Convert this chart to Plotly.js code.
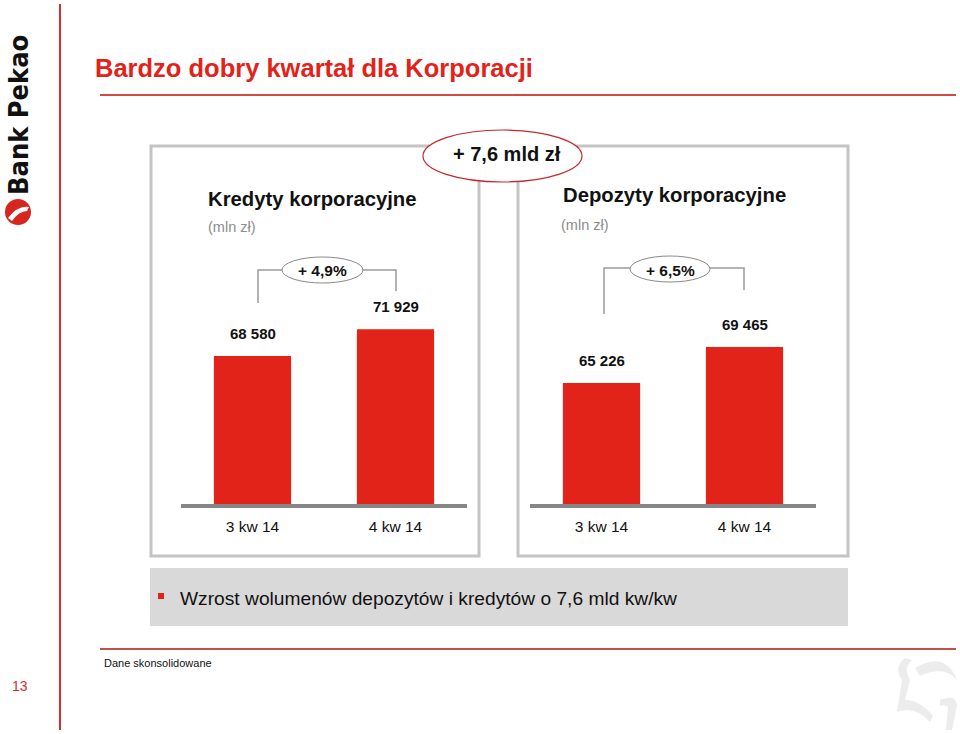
<!DOCTYPE html>
<html>
<head>
<meta charset="utf-8">
<script src="https://cdn.plot.ly/plotly-3.0.1.min.js"></script>
<style>html,body{margin:0;padding:0;background:#fff}#chart{width:960px;height:734px}</style>
</head>
<body>
<div id="chart"></div>
<script>
// ---- data ----
const categories = ["3 kw 14", "4 kw 14"];
const loanValues = [68580, 71929];       // Kredyty korporacyjne (mln zł)
const depositValues = [65226, 69465];    // Depozyty korporacyjne (mln zł)
const loanChange = "+ 4,9%";
const depositChange = "+ 6,5%";
const totalChange = "+ 7,6 mld zł";
const slideTitle = "Bardzo dobry kwartał dla Korporacji";
const leftTitle = "Kredyty korporacyjne";
const rightTitle = "Depozyty korporacyjne";
const unitLabel = "(mln zł)";
const summaryText = "Wzrost wolumenów depozytów i kredytów o 7,6 mld kw/kw";
const footnote = "Dane skonsolidowane";
const pageNumber = "13";

// ---- helpers ----
const W = 960, H = 734;
const X = px => px / W;
const Y = py => 1 - py / H;
const fmt = v => String(v).replace(/\B(?=(\d{3})+(?!\d))/g, " ");
const COND = "DejaVu Sans Condensed, Arial Narrow, sans-serif";
const ARIAL = "Liberation Sans, Arial, sans-serif";
const RED = "#e2231a";

const traces = [
  {type: "bar", x: categories, y: loanValues, xaxis: "x", yaxis: "y",
   marker: {color: RED}, hoverinfo: "skip"},
  {type: "bar", x: categories, y: depositValues, xaxis: "x2", yaxis: "y2",
   marker: {color: RED}, hoverinfo: "skip"}
];

const axisX = (d) => ({
  domain: d, type: "category", range: [-0.5, 1.5], fixedrange: true,
  showline: true, linecolor: "#868686", linewidth: 4, showgrid: false, zeroline: false,
  ticks: "outside", ticklen: 5, tickcolor: "rgba(0,0,0,0)",
  tickfont: {family: ARIAL, size: 15.5, color: "#111"}
});
const axisY = (range) => ({
  domain: [Y(504), Y(150)], range: range, visible: false, fixedrange: true
});

const annotations = [];
function valueLabels(vals, xa, ya) {
  vals.forEach((v, i) => annotations.push({
    xref: xa, yref: ya, x: categories[i], y: v, text: "<b>" + fmt(v) + "</b>",
    showarrow: false, yanchor: "bottom", yshift: 12,
    font: {family: ARIAL, size: 15, color: "#111"}
  }));
}
valueLabels(loanValues, "x", "y");
valueLabels(depositValues, "x2", "y2");

function txt(text, px, py, opts) {
  annotations.push(Object.assign({
    xref: "paper", yref: "paper", x: X(px), y: Y(py), text: text, showarrow: false,
    xanchor: "left", yanchor: "middle"
  }, opts));
}
txt("<b>" + slideTitle + "</b>", 93, 68, {font: {family: ARIAL, size: 25.5, color: "#e2231a"}});
txt("<b>" + leftTitle + "</b>", 206, 199, {font: {family: ARIAL, size: 20.3, color: "#111"}});
txt(unitLabel, 206, 227, {font: {family: ARIAL, size: 14.5, color: "#8c8c8c"}});
txt("<b>" + rightTitle + "</b>", 561, 195, {font: {family: ARIAL, size: 20.3, color: "#111"}});
txt(unitLabel, 559, 225, {font: {family: ARIAL, size: 14.5, color: "#8c8c8c"}});
txt("<b>" + totalChange + "</b>", 507, 154, {xanchor: "center", font: {family: ARIAL, size: 20, color: "#111"}});
txt("<b>" + loanChange + "</b>", 322, 270, {xanchor: "center", font: {family: ARIAL, size: 15.5, color: "#111"}});
txt("<b>" + depositChange + "</b>", 670, 270, {xanchor: "center", font: {family: ARIAL, size: 15.5, color: "#111"}});
txt(summaryText, 178, 598, {font: {family: ARIAL, size: 19.2, color: "#111"}});
txt(footnote, 102, 663, {font: {family: ARIAL, size: 11, color: "#111"}});
txt(pageNumber, 20, 686, {xanchor: "center", font: {family: ARIAL, size: 14, color: "#d42a2a"}});
txt("<b>Bank Pekao</b>", 18, 115, {xanchor: "center", textangle: -90, font: {family: COND, size: 27, color: "#111"}});

const GREY = "#c4c4c4";
const shapes = [
  // vertical left rule
  {type: "line", xref: "paper", yref: "paper", x0: X(60), x1: X(60), y0: Y(4), y1: Y(730), line: {color: "#d2302f", width: 2}},
  // title underline
  {type: "line", xref: "paper", yref: "paper", x0: X(100), x1: X(956), y0: Y(95), y1: Y(95), line: {color: "#d34a40", width: 2}},
  // footer line
  {type: "line", xref: "paper", yref: "paper", x0: X(100), x1: X(956), y0: Y(649), y1: Y(649), line: {color: "#c0504a", width: 2}},
  // panels
  {type: "rect", xref: "paper", yref: "paper", x0: X(151), x1: X(479), y0: Y(146), y1: Y(556), line: {color: GREY, width: 3}, layer: "below"},
  {type: "rect", xref: "paper", yref: "paper", x0: X(518), x1: X(848), y0: Y(146), y1: Y(556), line: {color: GREY, width: 3}, layer: "below"},
  // summary box
  {type: "rect", xref: "paper", yref: "paper", x0: X(150), x1: X(848), y0: Y(568), y1: Y(626), fillcolor: "#d9d9d9", line: {width: 0}, layer: "below"},
  {type: "rect", xref: "paper", yref: "paper", x0: X(158), x1: X(164), y0: Y(593), y1: Y(599), fillcolor: RED, line: {width: 0}},
  // total change ellipse
  {type: "circle", xref: "paper", yref: "paper", x0: X(423), x1: X(582), y0: Y(130), y1: Y(182), fillcolor: "#fff", line: {color: "#c8262b", width: 1.2}},
  // left bracket
  {type: "path", xref: "paper", yref: "paper", path: `M ${X(258)} ${Y(303)} L ${X(258)} ${Y(270)} L ${X(284)} ${Y(270)}`, line: {color: "#9a9a9a", width: 1.5}},
  {type: "path", xref: "paper", yref: "paper", path: `M ${X(361)} ${Y(270)} L ${X(396)} ${Y(270)} L ${X(396)} ${Y(291)}`, line: {color: "#9a9a9a", width: 1.5}},
  {type: "circle", xref: "paper", yref: "paper", x0: X(282), x1: X(363), y0: Y(257), y1: Y(283), fillcolor: "#fff", line: {color: "#8a8a8a", width: 1}},
  // right bracket
  {type: "path", xref: "paper", yref: "paper", path: `M ${X(604)} ${Y(314)} L ${X(604)} ${Y(268)} L ${X(630)} ${Y(268)}`, line: {color: "#9a9a9a", width: 1.5}},
  {type: "path", xref: "paper", yref: "paper", path: `M ${X(709)} ${Y(268)} L ${X(744)} ${Y(268)} L ${X(744)} ${Y(290)}`, line: {color: "#9a9a9a", width: 1.5}},
  {type: "circle", xref: "paper", yref: "paper", x0: X(630), x1: X(710), y0: Y(256), y1: Y(282), fillcolor: "#fff", line: {color: "#8a8a8a", width: 1}},
  // logo emblem
  {type: "circle", xref: "paper", yref: "paper", x0: X(5), x1: X(31), y0: Y(199), y1: Y(225), fillcolor: "#d7261e", line: {width: 0}},
  {type: "path", xref: "paper", yref: "paper", path: `M ${X(8)} ${Y(218)} Q ${X(18)} ${Y(205)} ${X(29)} ${Y(207)} L ${X(27)} ${Y(211)} Q ${X(19)} ${Y(211)} ${X(12)} ${Y(221)} Z`, fillcolor: "#fff", line: {width: 0}},
  // faint watermark
  {type: "path", xref: "paper", yref: "paper", path: `M ${X(905)} ${Y(658)} Q ${X(893)} ${Y(668)} ${X(902)} ${Y(680)} L ${X(897)} ${Y(712)} Q ${X(915)} ${Y(705)} ${X(930)} ${Y(722)} L ${X(933)} ${Y(716)} Q ${X(920)} ${Y(700)} ${X(905)} ${Y(700)} L ${X(910)} ${Y(680)} Q ${X(903)} ${Y(668)} ${X(912)} ${Y(660)} Z`, fillcolor: "#ececec", line: {width: 0}, layer: "below"},
  {type: "path", xref: "paper", yref: "paper", path: `M ${X(915)} ${Y(668)} Q ${X(945)} ${Y(650)} ${X(957)} ${Y(680)} Q ${X(945)} ${Y(665)} ${X(920)} ${Y(676)} Z`, fillcolor: "#ececec", line: {width: 0}, layer: "below"},
  {type: "path", xref: "paper", yref: "paper", path: `M ${X(940)} ${Y(700)} Q ${X(955)} ${Y(693)} ${X(957)} ${Y(705)} L ${X(952)} ${Y(730)} L ${X(946)} ${Y(730)} L ${X(948)} ${Y(707)} Q ${X(945)} ${Y(704)} ${X(940)} ${Y(706)} Z`, fillcolor: "#ececec", line: {width: 0}, layer: "below"}
];

const layout = {
  width: W, height: H, margin: {l: 0, r: 0, t: 0, b: 0},
  paper_bgcolor: "#fff", plot_bgcolor: "rgba(0,0,0,0)",
  showlegend: false, bargap: 0.46,
  xaxis: Object.assign(axisX([X(181), X(467)]), {anchor: "y"}),
  yaxis: Object.assign(axisY([50000, 50000 + 354 / (148 / 18580)]), {anchor: "x"}),
  xaxis2: Object.assign(axisX([X(530), X(816)]), {anchor: "y2"}),
  yaxis2: Object.assign(axisY([51000, 51000 + 354 / (121 / 14226)]), {anchor: "x2"}),
  annotations: annotations, shapes: shapes
};

Plotly.newPlot("chart", traces, layout, {staticPlot: true, displayModeBar: false});
</script>
</body>
</html>
